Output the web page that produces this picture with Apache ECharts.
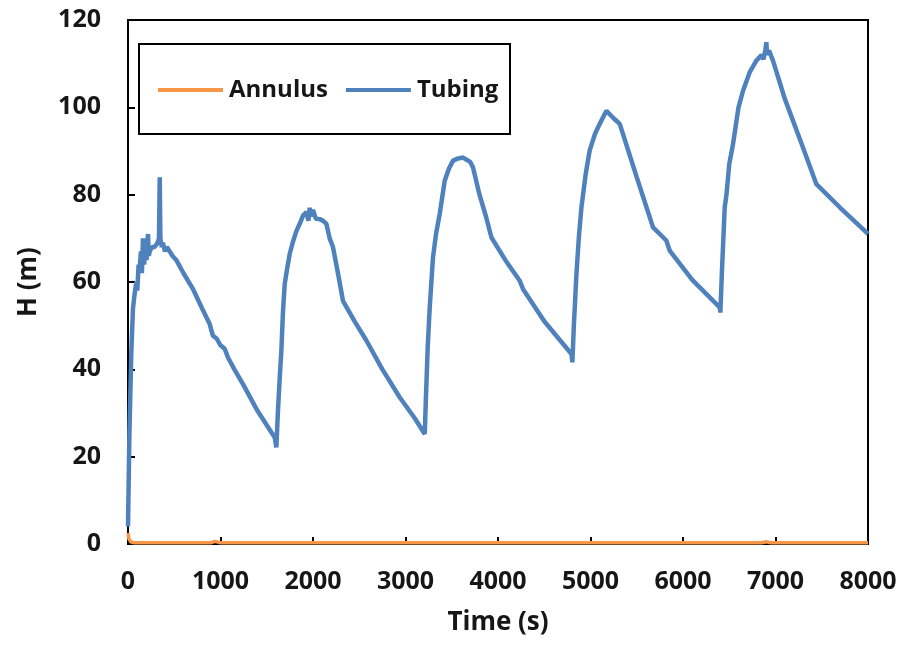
<!DOCTYPE html>
<html><head><meta charset="utf-8">
<script src="https://cdn.jsdelivr.net/npm/echarts@6/dist/echarts.min.js"></script>
<style>html,body{margin:0;padding:0;background:#fff}#c{width:906px;height:645px}</style>
</head><body><div id="c"></div>
<script>
const tubingTime = [0,15,36,54,70,90,100,115,126,140,150,162,175,190,200,216,225,234,260,288,320,335,343,350,365,378,400,420,451,480,523,600,700,800,883,900,919,960,1000,1045,1081,1150,1243,1400,1586,1604,1620,1640,1658,1675,1694,1720,1748,1780,1821,1860,1892,1930,1950,1964,1980,2000,2030,2072,2110,2145,2180,2216,2270,2324,2450,2577,2750,2937,3100,3208,3220,3240,3262,3297,3330,3370,3424,3470,3514,3570,3622,3660,3700,3730,3800,3870,3929,4080,4235,4270,4500,4794,4804,4820,4848,4875,4902,4950,4991,5050,5099,5172,5250,5316,5500,5676,5820,5856,6100,6397,6404,6420,6451,6470,6500,6541,6600,6649,6720,6793,6850,6870,6890,6901,6910,6930,6973,7100,7297,7442,7700,8000];
const tubingH = [4,25,44,54,57,60,58,64,63,67,62,70,64,70,65,71,66,67,68,68,69,70,84,70,68,69,67,68,67,66,65,62,58.5,54,50.4,49,47.7,47,45.5,44.7,42.7,40,36.6,30.5,24.4,22.1,30,38,44.3,53,59.5,63,66.4,69,71.7,73.5,75.2,76,74,77,75,76.5,74.5,74.4,74,73.3,70,68,62,55.7,51,46.6,40,33.6,28.8,25.2,33,45,54.2,65.6,71,75.6,83.2,86,87.8,88.3,88.5,88,87.5,86.2,80,75,70.2,65,60.3,58.4,51,43.5,41.6,50,61.8,70.5,77.1,85,90.1,94,96.2,99.2,97.5,96.2,84,72.5,69.5,67.2,60.5,54.2,53,62,77.1,80,87,91.6,100,103.8,108,110.7,112,111,113,114.9,112,113,110.7,102,90.8,82.4,77,71];
const annulusTime = [0,10,30,60,200,500,520,900,920,940,960,1000,2000,4000,6000,6850,6900,6950,8000];
const annulusH = [2.5,1.2,0.5,0.3,0.3,0.3,0.5,0.3,0.7,0.6,0.4,0.3,0.3,0.3,0.3,0.3,0.5,0.3,0.3];
const xTicks = {min:0,max:8000,interval:1000};
const yTicks = {min:0,max:120,interval:20};

const tubing = tubingTime.map((t,i)=>[t,tubingH[i]]);
const annulus = annulusTime.map((t,i)=>[t,annulusH[i]]);
const font = '"Open Sans", "Liberation Sans", sans-serif';
const txt = '#161616';
const chart = echarts.init(document.getElementById('c'));
chart.setOption({
  animation:false,
  backgroundColor:'#fff',
  grid:{left:128,right:38,top:20,bottom:101,show:true,borderColor:'#000',borderWidth:2,backgroundColor:'transparent'},
  graphic:[{type:'rect',left:138,top:43,shape:{width:371,height:90},
    style:{fill:'#fff',stroke:'#000',lineWidth:2},z:50}],
  legend:{
    left:138, top:75, orient:'horizontal', z:60,
    padding:[0,0,0,20],
    itemWidth:65, itemHeight:4, itemGap:18,
    icon:'rect',
    textStyle:{fontFamily:font,fontWeight:'bold',fontSize:24,lineHeight:30,color:txt,padding:[0,0,0,1]},
    data:['Annulus','Tubing']
  },
  xAxis:{type:'value',min:xTicks.min,max:xTicks.max,interval:xTicks.interval,
    name:'Time (s)',nameLocation:'middle',nameGap:66,
    nameTextStyle:{fontFamily:font,fontWeight:'bold',fontSize:26,color:txt},
    axisLine:{lineStyle:{color:'#000',width:2}},
    axisTick:{inside:true,length:7,lineStyle:{color:'#000',width:2}},
    axisLabel:{fontFamily:font,fontWeight:'bold',fontSize:25,color:txt,margin:25,formatter:v=>String(v)},
    splitLine:{show:false}},
  yAxis:{type:'value',min:yTicks.min,max:yTicks.max,interval:yTicks.interval,
    name:'H (m)',nameLocation:'middle',nameGap:86,nameRotate:90,
    nameTextStyle:{fontFamily:font,fontWeight:'bold',fontSize:26,color:txt},
    axisLine:{show:true,lineStyle:{color:'#000',width:2}},
    axisTick:{show:true,inside:true,length:7,lineStyle:{color:'#000',width:2}},
    axisLabel:{fontFamily:font,fontWeight:'bold',fontSize:25,color:txt,margin:27},
    splitLine:{show:false}},
  series:[
    {name:'Annulus',type:'line',data:annulus,showSymbol:false,symbol:'none',
      lineStyle:{color:'#F79646',width:3.5},itemStyle:{color:'#F79646'},z:2},
    {name:'Tubing',type:'line',data:tubing,showSymbol:false,symbol:'none',
      lineStyle:{color:'#4F81BD',width:4.5},itemStyle:{color:'#4F81BD'},z:3}
  ]
});
</script></body></html>
